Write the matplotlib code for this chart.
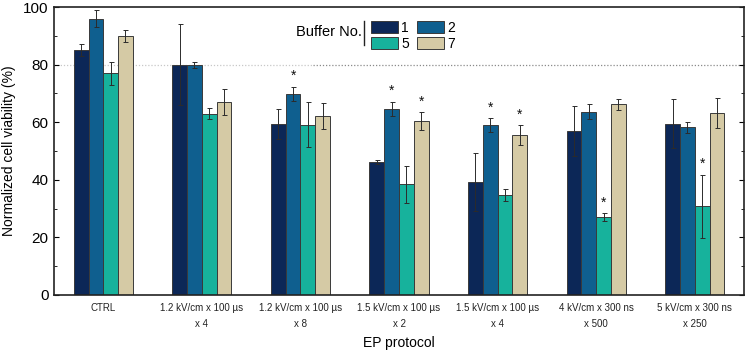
import matplotlib
matplotlib.use('Agg')
import matplotlib.pyplot as plt
from matplotlib.ticker import MultipleLocator
import numpy as np

plt.rcParams['font.family'] = ['Liberation Sans', 'DejaVu Sans']

# protocols on the x axis
protocols = ['CTRL', '1.2 kV/cm x 100 \u00b5s\nx 4', '1.2 kV/cm x 100 \u00b5s\nx 8',
             '1.5 kV/cm x 100 \u00b5s\nx 2', '1.5 kV/cm x 100 \u00b5s\nx 4',
             '4 kV/cm x 300 ns\nx 500', '5 kV/cm x 300 ns\nx 250']
buffers = ['1', '2', '5', '7']
colors = ['#0c2757', '#0f5f8f', '#17b29c', '#d5caa5']

# mean viability per buffer
buf1 = [85, 80, 59.5, 46.3, 39.2, 56.8, 59.4]
buf2 = [96, 80, 69.8, 64.6, 59.0, 63.6, 58.3]
buf5 = [77, 63, 59.2, 38.4, 34.7, 27.0, 30.8]
buf7 = [90, 67, 62.2, 60.4, 55.6, 66.2, 63.2]
# error bars
err1 = [2, 14, 5.2, 0.7, 10, 8.7, 8.5]
err2 = [3, 1, 2.6, 2.5, 2.4, 2.6, 1.9]
err5 = [4, 2, 7.7, 6.5, 2, 1.3, 11]
err7 = [2, 4.5, 4.5, 3.1, 3.4, 1.9, 5.3]
# significance stars (1 = star above bar)
star1 = [0, 0, 0, 0, 0, 0, 0]
star2 = [0, 0, 1, 1, 1, 0, 0]
star5 = [0, 0, 0, 0, 0, 1, 1]
star7 = [0, 0, 0, 1, 1, 0, 0]

means = [buf1, buf2, buf5, buf7]
errs = [err1, err2, err5, err7]
stars = [star1, star2, star5, star7]

fig = plt.figure(figsize=(7.47, 3.54), dpi=100)
ax = fig.add_axes([0.0723, 0.167, 0.9237, 0.813])

x = np.arange(len(protocols))
w = 0.15
handles = []
for k in range(4):
    pos = x + (k - 1.5) * w
    b = ax.bar(pos, means[k], w, color=colors[k], edgecolor='#3a3a3a', linewidth=0.7, zorder=2)
    handles.append(b)
    ax.errorbar(pos, means[k], yerr=errs[k], fmt='none', ecolor='#2b2b2b',
                elinewidth=0.7, capsize=1.8, capthick=0.7, zorder=3)
    for i in range(len(protocols)):
        if stars[k][i]:
            ax.text(pos[i], means[k][i] + errs[k][i] + 1.3, '*', ha='center', va='bottom',
                    fontsize=10, color='#111111', zorder=4)

# reference line at 80 %
ax.axhline(80, xmin=0, xmax=0.375, color='#c8c8c8', linestyle=(0, (1, 1.5)), linewidth=0.9, zorder=1)
ax.axhline(80, xmin=0.375, xmax=1, color='#8a8a8a', linestyle=(0, (1, 1.5)), linewidth=0.9, zorder=1)

ax.set_xlim(-0.5, 6.5)
ax.set_ylim(0, 100)
ax.set_xticks(x)
ax.set_xticklabels(protocols, fontsize=7, color='#222222', linespacing=1.7)
ax.yaxis.set_major_locator(MultipleLocator(20))
ax.yaxis.set_minor_locator(MultipleLocator(10))
ax.tick_params(axis='y', which='both', direction='in', right=True, labelsize=11, pad=4)
ax.tick_params(axis='y', which='major', length=3.5)
ax.tick_params(axis='y', which='minor', length=2.5)
ax.tick_params(axis='x', length=0, pad=6)
ax.set_ylabel('Normalized cell viability (%)', fontsize=10, labelpad=5)
ax.set_xlabel('EP protocol', fontsize=10, labelpad=5)
for s in ax.spines.values():
    s.set_linewidth(1.2)
    s.set_color('#222222')

# legend: 1 5 / 2 7 column-wise gives rows 1 2 and 5 7
order = [0, 2, 1, 3]
leg = ax.legend([handles[i] for i in order], [buffers[i] for i in order], ncol=2,
                loc='upper left', bbox_to_anchor=(0.44, 1.0), frameon=False,
                fontsize=10, handlelength=1.9, handleheight=0.9, handletextpad=0.25,
                columnspacing=0.6, labelspacing=0.15, borderaxespad=0.6)
fig.text(362 / 747, 1 - 32 / 354, 'Buffer No.', ha='right', va='center', fontsize=10.5)
fig.add_artist(plt.Line2D([364 / 747, 364 / 747], [1 - 21 / 354, 1 - 45 / 354],
                          color='#222222', linewidth=1))

fig.savefig('out.png', dpi=100)
